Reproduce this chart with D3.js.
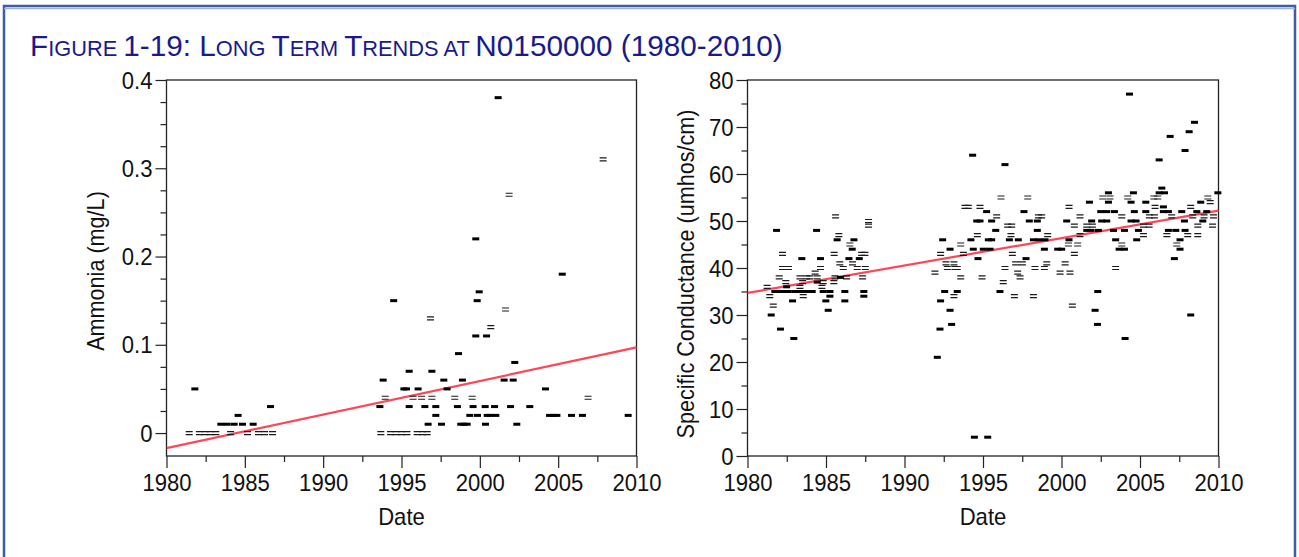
<!DOCTYPE html>
<html><head><meta charset="utf-8">
<script src="https://cdn.jsdelivr.net/npm/d3@7"></script>
<style>
body{margin:0;background:#fff;}
svg{display:block;}
text{font-family:"Liberation Sans",Arial,Helvetica,sans-serif;}
</style>
</head><body>
<svg id="c" width="1299" height="557"></svg>
<script>
// ---------------- DATA ----------------
const titleParts = [["F",1],["IGURE ",0],["1-19: L",1],["ONG ",0],["T",1],["ERM ",0],["T",1],["RENDS AT ",0],["N0150000 (1980-2010)",1]];
const xMajorTicks = [1980,1985,1990,1995,2000,2005,2010];
const xMinorTicks = [1982.5,1987.5,1992.5,1997.5,2002.5,2007.5];
const ammoniaMajorTicks = [0,0.1,0.2,0.3,0.4];
const ammoniaMinorTicks = [0.025,0.05,0.075,0.125,0.15,0.175,0.225,0.25,0.275,0.325,0.35,0.375];
const condMajorTicks = [0,10,20,30,40,50,60,70,80];
const condMinorTicks = [5,15,25,35,45,55,65,75];

// Ammonia (mg/L): measured values (solid dash) and non-detect / qualified values (open dash)
const ammoniaFilled = [
[1981.81,0.05],[1983.47,0.01],[1983.87,0.01],[1984.32,0.01],[1984.85,0.01],[1985.53,0.01],[1984.57,0.02],[1986.64,0.03],
[1993.62,0.03],[1993.83,0.06],[1994.50,0.15],[1995.15,0.05],[1995.32,0.05],[1995.49,0.07],[1995.49,0.03],[1996.06,0.05],[1996.49,0.03],
[1996.70,0.01],[1996.94,0.07],[1997.19,0.03],[1997.19,0.02],[1997.55,0.01],[1997.70,0.06],[1997.91,0.05],[1998.57,0.03],
[1998.64,0.09],[1998.89,0.06],[1998.78,0.01],[1998.98,0.01],[1999.19,0.01],[1999.36,0.02],[1999.57,0.03],[1999.74,0.22],[1999.74,0.11],
[1999.83,0.15],[1999.85,0.02],[1999.96,0.16],[2000.34,0.03],[2000.36,0.01],[2000.43,0.11],[2000.47,0.02],[2000.64,0.02],
[2000.94,0.03],[2001.02,0.02],[2001.17,0.38],[2001.55,0.06],[2001.96,0.03],[2002.13,0.06],[2002.23,0.08],[2002.36,0.01],
[2003.19,0.03],[2004.19,0.05],[2004.45,0.02],[2004.70,0.02],[2004.92,0.02],[2005.26,0.18],[2005.85,0.02],[2006.55,0.02],[2009.47,0.02]
];
const ammoniaHollow = [
[1981.45,0],[1982.10,0],[1982.45,0],[1982.80,0],[1983.15,0],[1984.09,0],[1985.17,0],[1985.87,0],[1986.26,0],[1986.77,0],
[1993.68,0],[1994.30,0],[1994.65,0],[1995.00,0],[1995.35,0],[1996.00,0],[1996.35,0],[1996.64,0],
[1993.96,0.04],[1995.74,0.04],[1996.28,0.04],[1996.94,0.04],[1996.85,0.13],[1998.40,0.04],[1999.51,0.04],
[2000.70,0.12],[2001.64,0.14],[2001.87,0.27],[2006.91,0.04],[2007.87,0.31]
];
const ammoniaTrend = [[1980,-0.017],[2010,0.097]];

// Specific Conductance (umhos/cm)
const condFilled = [
[1981.51,30],[1981.85,48],[1982.10,27],[1982.49,36],[1981.74,35],[1982.17,35],[1982.59,35],[1983.02,35],[1983.44,35],
[1982.87,33],[1982.95,25],[1983.46,42],[1983.76,35],[1984.12,35],[1984.40,48],[1984.44,37],[1984.65,42],[1984.82,35],
[1985.25,35],[1984.99,33],[1985.14,31],[1985.25,34],[1985.71,46],[1985.93,38],[1986.20,35],[1986.20,33],[1986.46,42],
[1986.67,44],[1986.78,46],[1987.12,42],[1987.41,35],[1987.41,34],
[1992.09,21],[1992.26,27],[1992.30,33],[1992.43,46],[1992.56,35],[1992.90,31],[1992.90,44],[1993.00,28],[1993.36,35],
[1994.23,46],[1994.34,64],[1994.38,44],[1994.45,4],[1994.68,42],[1994.60,50],[1994.81,50],[1995.02,44],[1995.23,52],
[1995.30,4],[1995.34,46],[1995.55,46],[1995.45,44],[1995.55,50],[1995.81,48],[1996.08,35],[1996.40,62],[1996.68,46],
[1997.25,46],[1997.61,52],[1997.74,42],[1997.95,50],[1998.21,46],[1998.57,46],[1998.95,46],[1998.46,50],[1998.46,48],
[1998.91,44],[1999.76,44],[2000.01,44],
[2000.33,50],[2000.48,46],[2001.61,48],[2001.88,48],[2001.78,54],[2001.92,50],[2002.31,35],[2002.14,31],[2002.29,28],
[2002.35,48],[2002.50,52],[2002.88,52],[2002.56,50],[2002.88,50],[2002.99,56],[2002.99,54],[2003.37,52],[2003.31,48],
[2003.45,46],[2003.67,44],[2004.01,44],[2004.01,48],[2004.05,25],[2004.33,77],[2004.43,54],[2004.58,56],[2004.64,52],
[2004.43,50],[2004.75,50],[2004.90,48],[2004.79,46],[2005.37,54],[2005.37,52],[2006.22,63],[2006.22,56],[2006.39,57],
[2006.56,56],[2006.49,53],[2006.49,52],[2006.81,52],[2006.81,48],[2006.92,68],[2007.19,42],[2007.55,44],[2007.28,48],
[2007.66,52],[2007.55,46],[2007.83,50],[2007.87,48],[2007.87,65],[2008.13,69],[2008.23,30],[2008.47,71],[2008.62,52],
[2008.87,54],[2009.00,50],[2009.25,52],[2009.96,56]
];
const condHollow = [
[1981.25,36],[1981.42,34],[1981.64,32],[1982.02,38],[1982.23,43],[1982.23,40],[1982.61,40],[1982.44,37],[1983.34,38],
[1983.34,36],[1983.51,37],[1983.55,34],[1983.76,38],[1983.97,38],[1984.31,39],[1984.44,38],[1984.65,40],[1984.74,36],
[1984.82,37],[1985.57,38],[1985.50,37],[1985.61,51],[1985.52,43],[1985.82,47],[1985.88,41],[1986.10,40],[1986.31,38],
[1986.52,45],[1986.69,41],[1986.99,40],[1987.27,43],[1987.48,43],[1987.50,40],[1987.33,38],[1987.71,50],[1987.71,49],
[1991.94,39],[1992.30,43],[1992.64,41],[1992.73,40],[1993.15,41],[1993.21,40],[1993.36,40],[1993.15,34],[1993.58,45],
[1993.58,38],[1993.75,43],[1993.85,53],[1994.06,53],[1994.64,47],[1994.81,53],[1994.94,38],[1995.87,51],[1996.15,55],
[1996.29,37],[1996.40,40],[1996.57,49],[1996.83,49],[1996.78,47],[1996.87,43],[1997.00,34],[1997.08,41],[1997.51,41],
[1997.21,39],[1997.36,38],[1997.85,55],[1998.21,34],[1998.31,40],[1998.53,51],[1998.74,51],[1998.91,40],[1999.06,41],
[1999.12,47],[1999.91,39],
[2000.54,39],[2000.23,41],[2000.48,53],[2000.44,45],[2000.69,32],[2000.82,43],[2000.82,49],[2001.03,45],[2001.18,47],
[2001.18,51],[2001.61,49],[2001.97,49],[2002.63,55],[2003.09,55],[2003.45,40],[2003.84,45],[2003.84,51],[2004.22,55],
[2005.22,49],[2005.58,49],[2005.22,47],[2005.60,51],[2005.92,51],[2005.88,55],[2006.13,55],[2005.96,53],[2006.71,47],
[2007.02,51],[2007.34,45],[2008.04,47],[2008.23,53],[2008.36,51],[2008.68,47],[2008.68,49],[2009.08,51],[2009.32,55],
[2009.47,54],[2009.62,49],[2009.68,51]
];
const condTrend = [[1980,34.7],[2010,52.2]];

// ---------------- DRAW ----------------
const svg = d3.select('#c');
const FONT = '"Liberation Sans",Arial,Helvetica,sans-serif';

// page frame
svg.append('rect').attr('x',0).attr('y',0).attr('width',1299).attr('height',557).attr('fill','#fff');
svg.append('rect').attr('x',4).attr('y',6).attr('width',1291).attr('height',560)
  .attr('fill','none').attr('stroke','#3d5ea6').attr('stroke-width',2.5);
svg.append('line').attr('x1',4).attr('x2',1295).attr('y1',8.5).attr('y2',8.5).attr('stroke','#9fb3d8').attr('stroke-width',1.5);

// title
const title = svg.append('text').attr('fill','#1a1a8c').attr('font-family',FONT);
titleParts.forEach(([t,big]) => title.append('tspan').attr('font-size', big?30:22).text(t));
const tb = title.node().getBBox();
title.attr('transform', `translate(30,56) scale(${753/tb.width},1)`);

function squeeze(sel, f){
  sel.each(function(){
    const w = this.getComputedTextLength();
    this.setAttribute('textLength', w*f);
    this.setAttribute('lengthAdjust','spacingAndGlyphs');
  });
}

function panel(o){
  const g = svg.append('g');
  const [x0,x1] = o.x.range(); const [yb,yt] = o.y.range();
  const clipId = 'clip'+Math.round(x0);
  svg.append('clipPath').attr('id',clipId).append('rect')
     .attr('x',x0).attr('y',yt).attr('width',x1-x0+4).attr('height',yb-yt);

  // ticks
  const styleAxis = (sel) => { sel.select('.domain').remove(); sel.selectAll('line').attr('stroke','#222').attr('stroke-width',1.2); };
  g.append('g').attr('transform',`translate(0,${yb})`)
    .call(d3.axisBottom(o.x).tickValues(xMinorTicks).tickSize(6).tickFormat('')).call(styleAxis);
  const xa = g.append('g').attr('transform',`translate(0,${yb})`)
    .call(d3.axisBottom(o.x).tickValues(xMajorTicks).tickSize(12).tickPadding(6).tickFormat(d3.format('d'))).call(styleAxis);
  g.append('g').attr('transform',`translate(${x0},0)`)
    .call(d3.axisLeft(o.y).tickValues(o.yMinor).tickSize(6).tickFormat('')).call(styleAxis);
  const ya = g.append('g').attr('transform',`translate(${x0},0)`)
    .call(d3.axisLeft(o.y).tickValues(o.yMajor).tickSize(11).tickPadding(3).tickFormat(o.fmt)).call(styleAxis);
  [xa,ya].forEach(a => {
    a.selectAll('text').attr('font-size',24).attr('fill','#111').attr('font-family',FONT);
    squeeze(a.selectAll('text'), 0.92);
  });
  ya.selectAll('text').attr('dy','0.34em');

  // frame
  g.append('rect').attr('x',x0).attr('y',yt).attr('width',x1-x0).attr('height',yb-yt)
    .attr('fill','none').attr('stroke','#222').attr('stroke-width',1.3);

  // axis titles
  const dt = g.append('text').attr('x',(x0+x1)/2).attr('y',525).attr('text-anchor','middle')
    .attr('font-size',24).attr('fill','#111').attr('font-family',FONT).text('Date');
  squeeze(dt, 0.92);
  const yt2 = g.append('text').attr('transform',`translate(${o.ytx},${o.yty}) rotate(-90)`).attr('text-anchor','middle')
    .attr('font-size',24).attr('fill','#111').attr('font-family',FONT).text(o.ylabel);
  squeeze(yt2, o.ysq);

  // trend line
  g.append('path').datum(o.trend).attr('clip-path',`url(#${clipId})`)
    .attr('d', d3.line().x(d=>o.x(d[0])).y(d=>o.y(d[1])))
    .attr('fill','none').attr('stroke','#ff4657').attr('stroke-width',2.2);

  // markers
  g.append('g').selectAll('path').data(o.hollow).join('path')
    .attr('d', d => { const cx=o.x(d[0]), cy=o.y(d[1]); return `M${cx-3.5},${cy-1.5}h7M${cx-3.5},${cy+1.5}h7`; })
    .attr('stroke','#1a1a1a').attr('stroke-width',1.2).attr('fill','none');
  g.append('g').selectAll('rect').data(o.filled).join('rect')
    .attr('x', d => o.x(d[0])-3.5).attr('y', d => o.y(d[1])-1.5)
    .attr('width',7).attr('height',3).attr('fill','#000');
}

panel({
  x: d3.scaleLinear().domain([1980,2010]).range([166.5,636.5]),
  y: d3.scaleLinear().domain([-0.026,0.4]).range([456,80]),
  yMajor: ammoniaMajorTicks, yMinor: ammoniaMinorTicks,
  fmt: d => d===0 ? '0' : d3.format('.1f')(d),
  ylabel: 'Ammonia (mg/L)', ytx: 104, yty: 271, ysq: 0.9,
  filled: ammoniaFilled, hollow: ammoniaHollow, trend: ammoniaTrend
});
panel({
  x: d3.scaleLinear().domain([1980,2010]).range([747.5,1218.5]),
  y: d3.scaleLinear().domain([0,80]).range([456,80]),
  yMajor: condMajorTicks, yMinor: condMinorTicks,
  fmt: d3.format('d'),
  ylabel: 'Specific Conductance (umhos/cm)', ytx: 694, yty: 274, ysq: 0.9,
  filled: condFilled, hollow: condHollow, trend: condTrend
});
</script>
</body></html>
